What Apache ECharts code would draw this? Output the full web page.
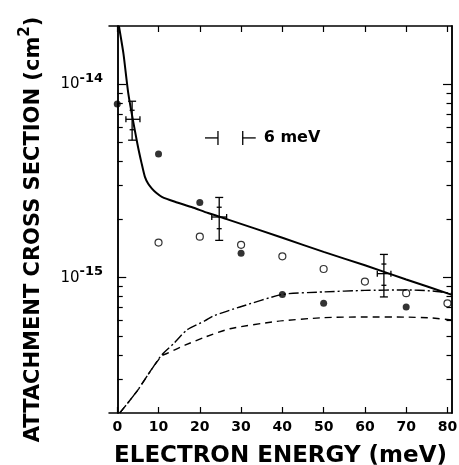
<!DOCTYPE html>
<html>
<head>
<meta charset="utf-8">
<script src="https://cdn.jsdelivr.net/npm/echarts@6.0.0/dist/echarts.min.js"></script>
<style>
  html, body { margin: 0; padding: 0; background: #fff; }
  #chart { width: 459px; height: 465px; }
</style>
</head>
<body>
<div id="chart"></div>
<script>
// x: electron energy (meV), y: attachment cross section (cm^2)
var xTicks = [0, 10, 20, 30, 40, 50, 60, 70, 80];
var yMajor = [1e-15, 1e-14];
var yRange = [2e-16, 2e-14];

// filled circles
var filledX = [0, 10, 20, 30, 40, 50, 70];
var filledY = [7.91e-15, 4.36e-15, 2.45e-15, 1.34e-15, 8.19e-16, 7.38e-16, 7.06e-16];

// open circles
var openX = [10, 20, 30, 40, 50, 60, 70, 80];
var openY = [1.52e-15, 1.63e-15, 1.48e-15, 1.29e-15, 1.11e-15, 9.56e-16, 8.32e-16, 7.38e-16];

// points with error bars
var errX   = [3.6, 24.7, 64.6];
var errY   = [6.59e-15, 2.06e-15, 1.05e-15];
var errXLo = [2.1, 22.9, 63.0];
var errXHi = [5.5, 26.5, 66.3];
var errYLo = [5.14e-15, 1.56e-15, 7.96e-16];
var errYHi = [8.17e-15, 2.60e-15, 1.32e-15];

// solid curve
var solidX = [0.4, 1.5, 2.7, 4.9, 5.9, 6.7, 7.5, 8.4, 9.5, 10.8, 14, 18, 22, 26.5, 40, 50, 60, 70, 81.1];
var solidY = [2.0e-14, 1.44e-14, 8.9e-15, 4.9e-15, 3.9e-15, 3.32e-15, 3.06e-15, 2.89e-15, 2.74e-15, 2.62e-15,
              2.47e-15, 2.32e-15, 2.16e-15, 2.01e-15, 1.61e-15, 1.36e-15, 1.16e-15, 9.8e-16, 8.16e-16];

// dash-dot curve
var dashDotX = [0.6, 2.6, 5.1, 8.3, 10.8, 13.6, 16.8, 21.3, 23.3, 29.7, 40, 50, 60, 70, 76, 81.1];
var dashDotY = [2.0e-16, 2.26e-16, 2.65e-16, 3.36e-16, 4.0e-16, 4.55e-16, 5.36e-16, 6.0e-16, 6.35e-16,
                7.06e-16, 8.2e-16, 8.45e-16, 8.6e-16, 8.65e-16, 8.55e-16, 8.3e-16];

// dashed curve
var dashedX = [0.6, 2.6, 5.1, 8.3, 10.8, 12, 16.4, 21.3, 27.3, 38.6, 50, 60, 70, 76, 81.1];
var dashedY = [2.0e-16, 2.26e-16, 2.65e-16, 3.36e-16, 3.95e-16, 4.06e-16, 4.48e-16, 4.94e-16, 5.45e-16,
               5.95e-16, 6.22e-16, 6.27e-16, 6.26e-16, 6.2e-16, 6.05e-16];

// energy resolution marker
var resStart = 24.4;
var resWidth = 6;
var resY = 5.28e-15;
var resLabel = '6 meV';

var lg = function (v) { return Math.log10(v); };
function pairs(xs, ys) {
    return xs.map(function (x, i) { return [x, lg(ys[i])]; });
}

var yMinor = [];
[-16, -15, -14].forEach(function (p) {
    for (var k = 2; k <= 9; k++) {
        var v = k * Math.pow(10, p);
        if (v > yRange[0] && v < yRange[1]) yMinor.push(lg(v));
    }
});
var yMajorLog = yMajor.map(lg);

var myChart = echarts.init(document.getElementById('chart'));

var font = 'DejaVu Sans';
var black = '#000';

function yAxisDef(pos, ticks, len, labels) {
    return {
        type: 'value',
        position: pos,
        min: lg(yRange[0]),
        max: lg(yRange[1]),
        splitLine: { show: false },
        axisLine: { show: true, lineStyle: { color: black, width: 1.5 } },
        axisTick: {
            show: true, inside: true, length: len,
            customValues: ticks,
            lineStyle: { color: black, width: 1.2 }
        },
        axisLabel: labels || { show: false }
    };
}

var yLeft = yAxisDef('left', yMajorLog, 9, {
    show: true,
    customValues: yMajorLog,
    margin: 6,
    formatter: function (v) { return '{b|10}{s|' + Math.round(v) + '}'; },
    rich: {
        b: { fontFamily: font, fontSize: 15, color: black },
        s: { fontFamily: font, fontSize: 13, fontWeight: 'bold', color: black, padding: [0, 0, 12, 0] }
    }
});
yLeft.name = 'ATTACHMENT CROSS SECTION (cm{s|2})';
yLeft.nameLocation = 'middle';
yLeft.nameGap = 60;
yLeft.nameTextStyle = {
    fontFamily: font, fontSize: 21, fontWeight: 'bold', color: black,
    padding: [0, 20, 0, 0],
    rich: { s: { fontFamily: font, fontSize: 15, fontWeight: 'bold', color: black, padding: [0, 0, 16, 0] } }
};

var option = {
    animation: false,
    backgroundColor: '#fff',
    grid: { left: 109, right: 7, top: 26, bottom: 52, outerBoundsMode: 'none', containLabel: false },
    xAxis: [
        {
            type: 'value', position: 'bottom', min: -2, max: 81.1,
            splitLine: { show: false },
            axisLine: { show: true, lineStyle: { color: black, width: 1.5 } },
            axisTick: { inside: true, length: 6, customValues: xTicks, lineStyle: { color: black, width: 1.2 } },
            axisLabel: {
                customValues: xTicks, margin: 7,
                fontFamily: font, fontSize: 14, fontWeight: 'bold', color: black
            },
            name: 'ELECTRON ENERGY (meV)',
            nameLocation: 'middle',
            nameGap: 32,
            nameTextStyle: { fontFamily: font, fontSize: 23, fontWeight: 'bold', color: black }
        },
        {
            type: 'value', position: 'top', min: -2, max: 81.1,
            splitLine: { show: false },
            axisLine: { show: true, lineStyle: { color: black, width: 1.5 } },
            axisTick: { inside: true, length: 6, customValues: xTicks, lineStyle: { color: black, width: 1.2 } },
            axisLabel: { show: false }
        }
    ],
    yAxis: [
        yLeft,
        yAxisDef('left', yMinor, 5.5),
        yAxisDef('right', yMajorLog, 9),
        yAxisDef('right', yMinor, 5.5)
    ],
    series: [
        {
            type: 'line', data: pairs(solidX, solidY), showSymbol: false,
            smooth: 0.2,
            lineStyle: { color: black, width: 2 }
        },
        {
            type: 'line', data: pairs(dashDotX, dashDotY), showSymbol: false,
            smooth: 0.2,
            lineStyle: { color: black, width: 1.4, type: [10, 3, 2, 3] }
        },
        {
            type: 'line', data: pairs(dashedX, dashedY), showSymbol: false,
            smooth: 0.2,
            lineStyle: { color: black, width: 1.4, type: [7, 5] }
        },
        {
            type: 'scatter', data: pairs(filledX, filledY), symbolSize: 7,
            itemStyle: { color: black }
        },
        {
            type: 'scatter', data: pairs(openX, openY), symbolSize: 7,
            itemStyle: { color: '#fff', borderColor: black, borderWidth: 1.2 }
        },
        {
            type: 'custom',
            data: errX.map(function (x, i) {
                return [x, lg(errY[i]), errXLo[i], errXHi[i], lg(errYLo[i]), lg(errYHi[i])];
            }),
            renderItem: function (params, api) {
                var c = api.coord([api.value(0), api.value(1)]);
                var l = api.coord([api.value(2), api.value(1)]);
                var r = api.coord([api.value(3), api.value(1)]);
                var b = api.coord([api.value(0), api.value(4)]);
                var t = api.coord([api.value(0), api.value(5)]);
                var st = { stroke: black, lineWidth: 1.3 };
                function seg(x1, y1, x2, y2) {
                    return { type: 'line', shape: { x1: x1, y1: y1, x2: x2, y2: y2 }, style: st };
                }
                var mt = (t[1] + c[1]) / 2, mb = (b[1] + c[1]) / 2;
                return {
                    type: 'group',
                    children: [
                        seg(c[0], t[1], c[0], b[1]),
                        seg(l[0], c[1], r[0], c[1]),
                        seg(c[0] - 4, t[1], c[0] + 4, t[1]),
                        seg(c[0] - 4, b[1], c[0] + 4, b[1]),
                        seg(c[0] - 2.5, mt, c[0] + 2.5, mt),
                        seg(c[0] - 2.5, mb, c[0] + 2.5, mb),
                        seg(l[0], c[1] - 3, l[0], c[1] + 3),
                        seg(r[0], c[1] - 3, r[0], c[1] + 3)
                    ]
                };
            }
        },
        {
            type: 'custom',
            data: [[resStart, resStart + resWidth, lg(resY)]],
            renderItem: function (params, api) {
                var a = api.coord([api.value(0), api.value(2)]);
                var b = api.coord([api.value(1), api.value(2)]);
                var st = { stroke: black, lineWidth: 1.3 };
                function seg(x1, y1, x2, y2) {
                    return { type: 'line', shape: { x1: x1, y1: y1, x2: x2, y2: y2 }, style: st };
                }
                return {
                    type: 'group',
                    children: [
                        seg(a[0] - 13, a[1], a[0], a[1]),
                        seg(a[0], a[1] - 7, a[0], a[1] + 7),
                        seg(b[0], b[1], b[0] + 13, b[1]),
                        seg(b[0], b[1] - 7, b[0], b[1] + 7),
                        {
                            type: 'text',
                            style: {
                                x: b[0] + 21, y: b[1], text: resLabel,
                                fontFamily: font, fontSize: 16, fontWeight: 'bold',
                                fill: black, verticalAlign: 'middle', align: 'left'
                            }
                        }
                    ]
                };
            }
        }
    ]
};
myChart.setOption(option);
</script>
</body>
</html>
